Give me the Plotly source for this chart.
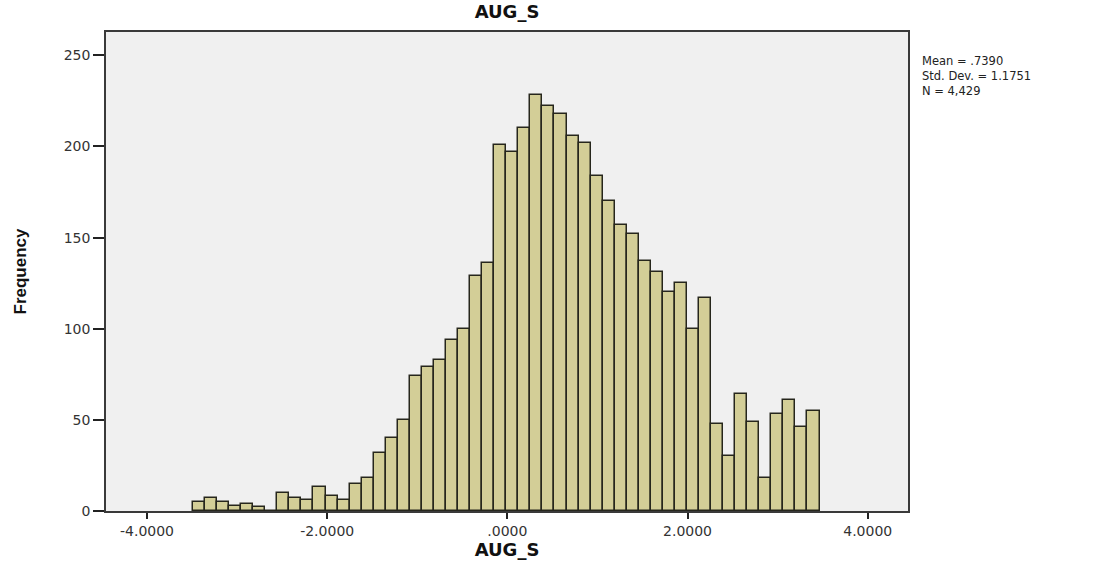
import plotly.graph_objects as go

# Histogram data
counts = [5, 7, 5, 3, 4, 2, 0,
          10, 7, 6, 13, 8, 6, 15, 18,
          32, 40, 50,
          74, 79, 83, 94, 100,
          129, 136,
          201, 197, 210, 228, 222, 218, 206, 202,
          184, 170, 157, 152, 137, 131, 120, 125,
          100, 117,
          48, 30, 64, 49, 18, 53, 61, 46, 55]
bin_start = -3.4895
bin_width = 0.13374

tick_vals = [-4, -2, 0, 2, 4]
tick_text = ["-4.0000", "-2.0000", ".0000", "2.0000", "4.0000"]
y_ticks = [0, 50, 100, 150, 200, 250]
stats_lines = ["Mean = .7390", "Std. Dev. = 1.1751", "N = 4,429"]

centers = [bin_start + bin_width * (i + 0.5) for i in range(len(counts))]

fig = go.Figure(go.Bar(
    x=centers, y=counts, width=[bin_width] * len(counts),
    marker=dict(color="#D3CE97", line=dict(color="#26261c", width=1.5)),
    hoverinfo="x+y",
))

font = "DejaVu Sans, Liberation Sans, Arial, sans-serif"
fig.update_layout(
    width=1101, height=569,
    margin=dict(l=106, r=193, t=32, b=58),
    paper_bgcolor="white", plot_bgcolor="#F0F0F0",
    showlegend=False,
    font=dict(family=font, color="#333333", size=14),
    title=dict(text="<b>AUG_S</b>", x=0.5, xref="paper", xanchor="center",
               y=1, yref="container", yanchor="top", pad=dict(t=5),
               font=dict(size=18, color="#111111", family=font)),
    bargap=0,
)
fig.update_xaxes(
    range=[-4.455, 4.447], tickvals=tick_vals, ticktext=tick_text,
    ticks="outside", ticklen=6, tickwidth=1.5, tickcolor="#222222",
    showline=True, mirror=True, linecolor="#3a3a3a", linewidth=1.5,
    showgrid=False, zeroline=False,
    tickfont=dict(size=14, color="#333333", family=font),
    title=dict(text="<b>AUG_S</b>", font=dict(size=18, color="#111111", family=font), standoff=6),
)
fig.update_yaxes(
    range=[0, 262.8], tickvals=y_ticks,
    ticks="outside", ticklen=11, tickwidth=1.5, tickcolor="#222222",
    showline=True, mirror=True, linecolor="#3a3a3a", linewidth=1.5,
    showgrid=False, zeroline=False,
    tickfont=dict(size=14, color="#333333", family=font),
    title=dict(text="<b>Frequency</b>",
               font=dict(size=17, color="#111111",
                         family="Liberation Sans Narrow, Liberation Sans, Arial"),
               standoff=33),
)
fig.add_annotation(
    xref="paper", yref="paper", x=1.015, y=0.958, xanchor="left", yanchor="top",
    text="<br>".join(stats_lines), showarrow=False, align="left",
    font=dict(size=11.5, color="#222222", family=font),
)
fig.write_html("out.html")
